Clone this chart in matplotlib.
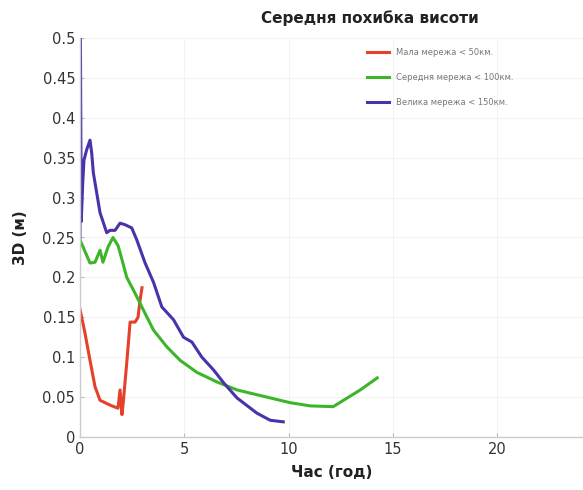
import matplotlib
matplotlib.use("Agg")
import matplotlib.pyplot as plt

# Мала мережа < 50км.
small_t = [0.0, 0.24, 0.48, 0.72, 0.96, 1.44, 1.82, 1.92, 2.01, 2.06, 2.25, 2.40, 2.64, 2.78, 2.88, 2.97]
small_err = [0.160, 0.130, 0.096, 0.063, 0.046, 0.040, 0.036, 0.059, 0.028, 0.040, 0.096, 0.144, 0.144, 0.150, 0.172, 0.187]

# Середня мережа < 100км.
mid_t = [0.0, 0.48, 0.72, 0.96, 1.10, 1.34, 1.58, 1.82, 1.92, 2.24, 2.64, 3.04, 3.52, 4.16,
         4.80, 5.60, 6.56, 7.52, 8.15, 9.11, 10.07, 11.03, 12.13, 12.81, 13.43, 14.24]
mid_err = [0.247, 0.218, 0.219, 0.234, 0.219, 0.238, 0.250, 0.240, 0.231, 0.200, 0.180, 0.159,
           0.134, 0.113, 0.096, 0.081, 0.069, 0.059, 0.055, 0.049, 0.043, 0.039, 0.038, 0.049,
           0.059, 0.074]

# Велика мережа < 150км.
big_t = [0.0, 0.02, 0.06, 0.13, 0.19, 0.32, 0.48, 0.56, 0.64, 0.96, 1.28, 1.44, 1.68, 1.92,
         2.16, 2.48, 2.72, 3.12, 3.52, 3.92, 4.48, 4.96, 5.36, 5.84, 6.40, 6.88, 7.52, 8.47,
         9.11, 9.74]
big_err = [0.250, 0.500, 0.270, 0.318, 0.347, 0.360, 0.372, 0.356, 0.331, 0.281, 0.256, 0.259,
           0.259, 0.268, 0.266, 0.262, 0.247, 0.218, 0.194, 0.163, 0.147, 0.125, 0.119, 0.100,
           0.084, 0.068, 0.049, 0.030, 0.021, 0.019]

labels = ["Мала мережа < 50км.", "Середня мережа < 100км.", "Велика мережа < 150км."]
colors = ["#e5402a", "#3db42a", "#4a33aa"]

fig = plt.figure(figsize=(5.83, 4.9), dpi=100)
ax = fig.add_axes([80 / 583, 53 / 490, 503 / 583, 399 / 490])

for t, err, lab, c in zip([small_t, mid_t, big_t], [small_err, mid_err, big_err], labels, colors):
    ax.plot(t, err, color=c, linewidth=2.2, label=lab, solid_joinstyle="round")

ax.set_xlim(0, 24.1)
ax.set_ylim(0, 0.5)
ax.set_xticks([0, 5, 10, 15, 20])
ax.set_yticks([0, 0.05, 0.1, 0.15, 0.2, 0.25, 0.3, 0.35, 0.4, 0.45, 0.5])
ax.set_yticklabels(["0", "0.05", "0.1", "0.15", "0.2", "0.25", "0.3", "0.35", "0.4", "0.45", "0.5"])

for side in ["top", "right"]:
    ax.spines[side].set_visible(False)
for side in ["left", "bottom"]:
    ax.spines[side].set_color("#cccccc")
    ax.spines[side].set_linewidth(1.0)
ax.tick_params(direction="in", length=3, color="#bbbbbb", labelsize=10.5, labelcolor="#333333")
ax.grid(True, color="#f3f3f3", linewidth=0.8)

ax.set_xlabel("Час (год)", fontsize=11, fontweight="bold", color="#222222", labelpad=6)
ax.set_ylabel("3D (м)", fontsize=11, fontweight="bold", color="#222222", labelpad=10)
fig.text(370 / 583, 1 - 18 / 490, "Середня похибка висоти", ha="center", va="center",
         fontsize=11, fontweight="bold", color="#222222")

leg = ax.legend(loc="upper left", bbox_to_anchor=(0.555, 0.995), frameon=False, fontsize=6,
                handlelength=2.6, labelspacing=1.9, borderaxespad=0.6)
for txt in leg.get_texts():
    txt.set_color("#777777")

fig.savefig("out.png", dpi=100)
